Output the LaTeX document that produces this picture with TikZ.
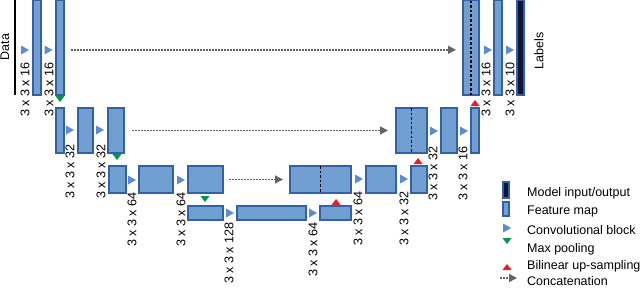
\documentclass[tikz,border=0pt]{standalone}
\usepackage{fontspec}
\setmainfont{Liberation Sans}
\usetikzlibrary{arrows.meta}
\definecolor{fmfill}{RGB}{114,159,210}
\definecolor{fmdraw}{RGB}{52,96,168}
\definecolor{convc}{RGB}{91,141,214}
\definecolor{poolc}{RGB}{0,150,80}
\definecolor{upc}{RGB}{237,28,36}
\definecolor{iofill}{RGB}{12,20,56}
\definecolor{arrc}{RGB}{100,100,100}
\tikzset{
  fmap/.style={draw=fmdraw, fill=fmfill, line width=1.3pt, inner sep=0pt, outer sep=0pt, anchor=north west},
  iobox/.style={fmap, fill=iofill},
  txt/.style={inner sep=0pt, font=\fontsize{12.5}{15}\selectfont},
  lbl/.style={inner sep=0pt, font=\fontsize{12.6}{15}\selectfont, rotate=90, anchor=east},
  cline/.style={draw=black, line width=1.8pt, dash pattern=on 2.6pt off 2pt},
  catarrow/.style={draw=arrc, line width=1.4pt, dash pattern=on 1.5pt off 1.5pt,
    -{Triangle[length=8pt,width=8pt,fill=arrc]}},
}
\newcommand\fmblock[6]{\node[#1, minimum width={(#4-#2)*1pt}, minimum height={(#5-#3)*1pt}] (#6) at (#2,#3) {};}
\newcommand\convtri[2]{\fill[convc] (#1,#2) ++(-4,-4.5) -- ++(0,9) -- ++(8,-4.5) -- cycle;}
\newcommand\pooltri[2]{\fill[poolc] (#1,#2) ++(-4.5,-3) -- ++(9,0) -- ++(-4.5,6) -- cycle;}
\newcommand\uptri[2]{\fill[upc] (#1,#2) ++(-4.5,3) -- ++(9,0) -- ++(-4.5,-6) -- cycle;}
\begin{document}
\begin{tikzpicture}[x=1pt,y=-1pt]
\useasboundingbox (0,0) rectangle (640,287);
% input
\node[fill=black, minimum width=2pt, minimum height=95pt, inner sep=0pt, anchor=north west] (data) at (14,0) {};
\node[txt, rotate=90] (datalbl) at (5,47) {Data};
% level 1 left
\fmblock{fmap}{33}{0.6}{41}{95}{a1}
\fmblock{fmap}{56}{0.6}{64}{95}{a2}
% level 2 left
\fmblock{fmap}{56}{108}{64}{153}{b1}
\fmblock{fmap}{78}{108}{93}{153}{b2}
\fmblock{fmap}{108}{108}{124}{153}{b3}
% level 3 left
\fmblock{fmap}{109}{166}{126}{193}{c1}
\fmblock{fmap}{139}{166}{173}{193}{c2}
\fmblock{fmap}{188}{166}{223}{193}{c3}
% level 4
\fmblock{fmap}{188}{206}{223}{220}{d1}
\fmblock{fmap}{237}{206}{306}{220}{d2}
\fmblock{fmap}{320}{206}{351}{220}{d3}
% level 3 right
\fmblock{fmap}{290}{166}{351}{193}{e1}
\fmblock{fmap}{366}{166}{396}{193}{e2}
\fmblock{fmap}{411}{166}{427}{193}{e3}
% level 2 right
\fmblock{fmap}{396}{108}{427}{153}{f1}
\fmblock{fmap}{441}{108}{457}{153}{f2}
\fmblock{fmap}{471}{108}{479}{153}{f3}
% level 1 right
\fmblock{fmap}{463}{0.6}{479}{95}{g1}
\fmblock{fmap}{494}{0.6}{502}{95}{g2}
\fmblock{iobox}{517}{0.6}{524}{95}{out}
\node[txt, rotate=90] (labelslbl) at (539,51) {Labels};
% concatenation split lines
\draw[cline] (g1.north) -- (g1.south);
\draw[cline] (f1.north) -- (f1.south);
\draw[cline] (e1.north) -- (e1.south);
% skip connections
\draw[catarrow] ([xshift=7pt,yshift=-2pt]a2.east) -- ([xshift=-7pt,yshift=-2pt]g1.west);
\draw[catarrow] ([xshift=8pt]b3.east) -- ([xshift=-8pt]f1.west);
\draw[catarrow] ([xshift=6pt]c3.east) -- ([xshift=-7pt]e1.west);
% convolution triangles
\convtri{25}{50}\convtri{48.5}{50}
\convtri{70}{130}\convtri{100}{130}
\convtri{132}{180}\convtri{181}{180}
\convtri{230}{213}\convtri{313}{213}
\convtri{359}{179}\convtri{404}{179}
\convtri{434}{131}\convtri{464}{131}
\convtri{488}{50}\convtri{510}{50}
% pooling
\pooltri{60}{99}\pooltri{117}{157}\pooltri{205}{199}
% upsampling
\uptri{336}{202}\uptri{418}{161}\uptri{475}{103}
% labels
\node[lbl] (t1) at (25,62) {3 x 3 x 16};
\node[lbl] (t2) at (49,62) {3 x 3 x 16};
\node[lbl] (t3) at (70,144) {3 x 3 x 32};
\node[lbl] (t4) at (101,144) {3 x 3 x 32};
\node[lbl] (t5) at (132,192) {3 x 3 x 64};
\node[lbl] (t6) at (181,192) {3 x 3 x 64};
\node[lbl] (t7) at (229,222) {3 x 3 x 128};
\node[lbl] (t8) at (313,222) {3 x 3 x 64};
\node[lbl] (t9) at (358,191) {3 x 3 x 64};
\node[lbl] (t10) at (404,191) {3 x 3 x 32};
\node[lbl] (t11) at (433,146) {3 x 3 x 32};
\node[lbl] (t12) at (463,146) {3 x 3 x 16};
\node[lbl] (t13) at (486,62) {3 x 3 x 16};
\node[lbl] (t14) at (510,62) {3 x 3 x 10};
% legend
\fmblock{iobox}{503}{182}{509}{198}{lg1}
\fmblock{fmap}{503}{202}{509}{216}{lg2}
\convtri{507}{228}
\pooltri{507}{241}
\uptri{507}{267}
\coordinate (lga) at (500,278);
\coordinate (lgb) at (517,278);
\draw[catarrow] (lga) -- (lgb);
\node[txt, anchor=base west] (lt1) at (527,196) {Model input/output};
\node[txt, anchor=base west] (lt2) at (527,214.5) {Feature map};
\node[txt, anchor=base west] (lt3) at (527,234) {Convolutional block};
\node[txt, anchor=base west] (lt4) at (527,252.5) {Max pooling};
\node[txt, anchor=base west] (lt5) at (527,269.5) {Bilinear up-sampling};
\node[txt, anchor=base west] (lt6) at (527,285) {Concatenation};
\end{tikzpicture}
\end{document}
